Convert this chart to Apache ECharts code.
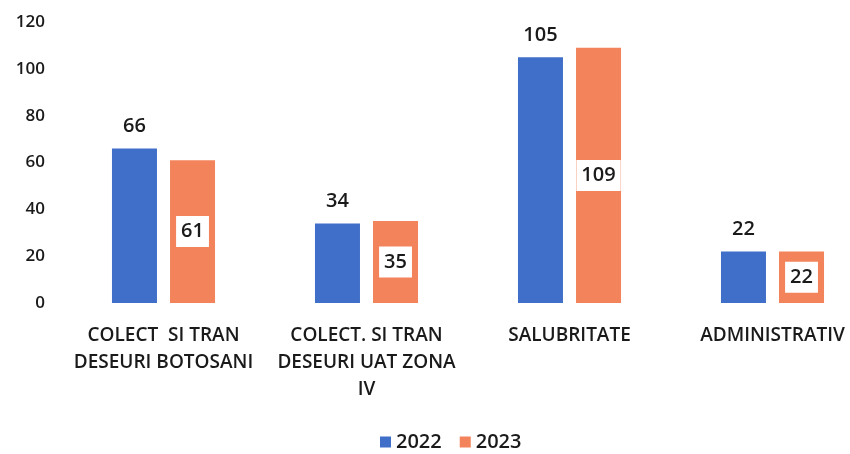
<!DOCTYPE html>
<html lang="ro">
<head>
    <meta charset="UTF-8">
    <title>Grafic</title>
    <script src="https://cdn.jsdelivr.net/npm/echarts@6/dist/echarts.min.js"></script>
    <style>
        *{margin:0;padding:0;box-sizing:border-box;}
        body,html{width:850px;height:454px;background:#fff;}
        #main{width:850px;height:454px;}
    </style>
</head>
<body>
<div id="main"></div>
<script>
    // date
    var categorii = ['COLECT  SI TRAN\nDESEURI BOTOSANI', 'COLECT. SI TRAN\nDESEURI UAT ZONA\nIV', 'SALUBRITATE', 'ADMINISTRATIV']
    var ani = ['2022', '2023']
    var valori2022 = [66, 34, 105, 22]
    var valori2023 = [61, 35, 109, 22]

    var font = 'Open Sans'
    var myCharts = echarts.init(document.getElementById('main'))
    var option = {
        animation: false,
        textStyle: {fontFamily: font},
        // grila iese putin in dreapta, ca in original
        grid: {left: 62, right: -24, top: 22, bottom: 151, outerBoundsMode: 'none', containLabel: false},
        legend: {
            data: ani,
            top: 427,
            left: 375,
            itemWidth: 11,
            itemHeight: 11,
            itemGap: 18,
            icon: 'rect',
            textStyle: {fontSize: 20, color: '#1a1a1a', fontWeight: 600, fontFamily: font}
        },
        xAxis: {
            type: 'category',
            data: categorii,
            axisLine: {show: false},
            axisTick: {show: false},
            axisLabel: {
                interval: 0,
                fontSize: 19,
                lineHeight: 27,
                color: '#1a1a1a',
                fontWeight: 600,
                margin: 19,
                fontFamily: font
            }
        },
        yAxis: {
            type: 'value',
            min: 0,
            max: 120,
            interval: 20,
            axisLine: {show: false},
            axisTick: {show: false},
            splitLine: {show: false},
            axisLabel: {fontSize: 17, color: '#1a1a1a', fontWeight: 600, margin: 17, fontFamily: font}
        },
        series: [
            {
                name: '2022',
                type: 'bar',
                data: valori2022,
                barWidth: 45,
                barGap: '29%',
                itemStyle: {color: '#3f6fc8'},
                label: {
                    show: true,
                    position: 'top',
                    distance: 12,
                    fontSize: 20,
                    fontWeight: 600,
                    color: '#1a1a1a',
                    fontFamily: font
                }
            },
            {
                name: '2023',
                type: 'bar',
                data: valori2023,
                barWidth: 45,
                itemStyle: {color: '#f3835a'},
                label: {
                    show: true,
                    position: 'inside',
                    fontSize: 20,
                    fontWeight: 600,
                    color: '#1a1a1a',
                    backgroundColor: '#fff',
                    padding: [6, 5, 5, 5],
                    fontFamily: font
                }
            }
        ]
    }
    myCharts.setOption(option)
    window.onresize = myCharts.resize
</script>
</body>
</html>
